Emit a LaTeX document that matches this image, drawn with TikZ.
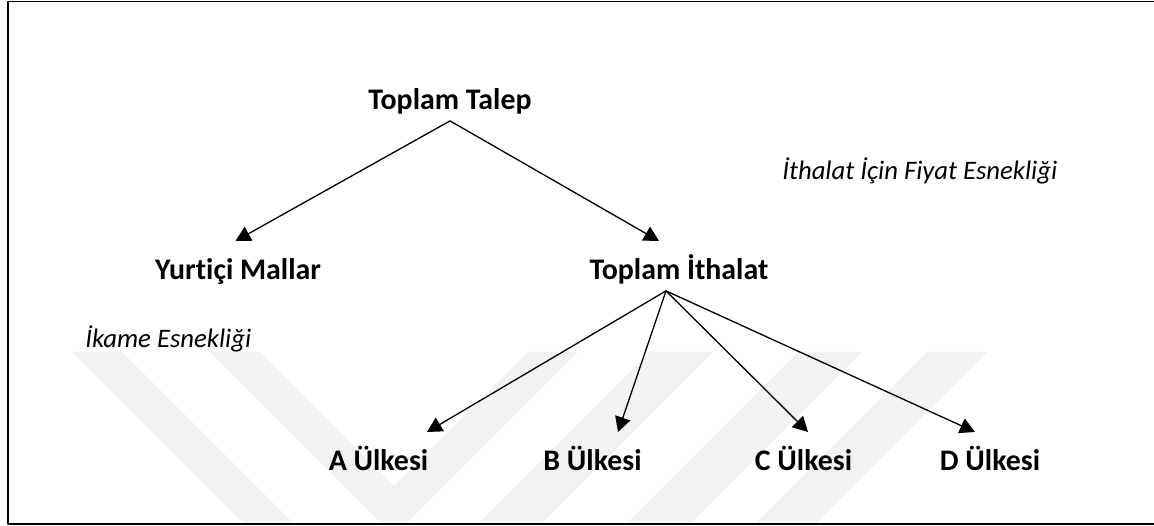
\documentclass[tikz,border=0pt]{standalone}
\usepackage{fontspec}
\setmainfont{Carlito}[Ligatures=NoCommon]
\usetikzlibrary{arrows.meta,calc}
\begin{document}
\begin{tikzpicture}[x=0.02cm, y=-0.02cm, line join=round, >={Triangle[length=8.5pt,width=9pt]},
    box/.style={font=\fontsize{17}{20}\selectfont\bfseries, inner sep=0pt, text height=22pt, text depth=6pt, anchor=base},
    note/.style={font=\fontsize{15.2}{18}\selectfont\itshape, inner sep=0pt, anchor=base west},
    arr/.style={->, line width=0.75pt}]
    \useasboundingbox (0,0) rectangle (1154,526);
    % faint watermark
    \begin{scope}[black!5]
        \fill (72,352)--(122,352)--(294,524)--(244,524)--cycle;
        \fill (210,352)--(260,352)--(394,486)--(528,352)--(578,352)--(406,524)--(382,524)--cycle;
        \fill (478,524)--(541,524)--(713,352)--(650,352)--cycle;
        \fill (626,524)--(690,524)--(862,352)--(798,352)--cycle;
        \fill (755,524)--(815,524)--(987,352)--(927,352)--cycle;
    \end{scope}
    % frame
    \draw[line width=0.9pt] (1170,1.5)--(8,1.5)--(8,524)--(1170,524);
    % labels
    \node[box] (talep) at (450,110) {Toplam Talep};
    \node[box] (yurtici) at (238,280) {Yurtiçi Mallar};
    \node[box] (ithalat) at (679,280) {Toplam İthalat};
    \node[box] (a) at (378.5,471) {A Ülkesi};
    \node[box] (b) at (592.5,471) {B Ülkesi};
    \node[box] (c) at (803.5,471) {C Ülkesi};
    \node[box] (d) at (990,471) {D Ülkesi};
    \node[note] (fiyat) at (782,180) {İthalat İçin Fiyat Esnekliği};
    \node[note] (ikame) at (85,348) {İkame Esnekliği};
    % arrows
    \draw[arr] (talep.south) -- ($(yurtici.north)+(-2.5,0)$);
    \draw[arr] (talep.south) -- ($(ithalat.north)+(-20,0)$);
    \coordinate (fan) at ($(ithalat.south)+(-13,0)$);
    \foreach \c/\dx in {a/48.5, b/25.5, c/4.5, d/-15}
        \draw[arr] (fan) -- ($(\c.north)+(\dx,0)$);
\end{tikzpicture}
\end{document}
